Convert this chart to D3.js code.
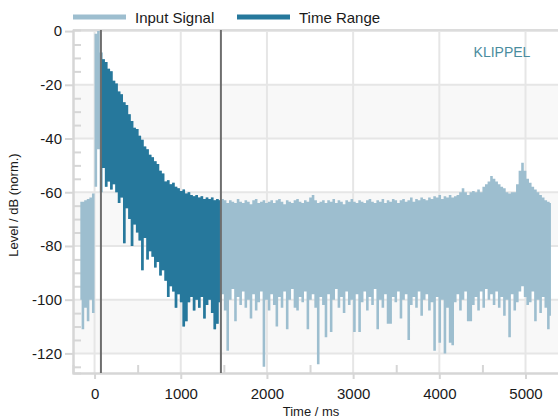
<!DOCTYPE html>
<html>
<head>
<meta charset="utf-8">
<script src="https://cdn.jsdelivr.net/npm/d3@7"></script>
<style>
  body { margin: 0; background: #fff; }
  svg { display: block; font-family: "Liberation Sans", Arial, sans-serif; }
</style>
</head>
<body>
<div id="chart"></div>
<script>
// Signal envelope, one column every 30 ms starting at -165 ms (levels in dB)
const timeStart = -165;
const timeStep = 30;

const levelTop = [
  // before onset
  -63.5, -63.5, -63, -62.5, -62, -60.5, -1, 0,
  // decay (inside time range)
  -8, -10.5, -11.5, -14, -15, -18.5, -19.5, -22.5, -23.5, -26.5,
  -27.5, -31, -33.5, -36, -36.5, -39, -40.5, -43, -44, -46,
  -47, -48.5, -49.5, -52, -53, -56, -55.5, -57, -56.5, -58,
  -58.5, -59.5, -59, -60.5, -60, -61, -61.5, -61, -62, -61.5,
  -62.5, -62, -62.5, -62, -63, -62.5, -63,
  // noise floor
  -62.5, -63, -64, -63, -63.5, -64, -62.5, -63.5, -64, -63,
  -63.5, -64.5, -63, -62.5, -64, -63.5, -63, -64, -63.5, -63,
  -64, -63, -62.5, -63.5, -64.5, -63, -63.5, -64, -63, -62.5,
  -63.5, -64, -63, -63.5, -62, -61, -63, -64, -63.5, -63,
  -64, -63, -63.5, -62.5, -64, -63, -63.5, -64.5, -63, -63.5,
  -62.5, -63.5, -64, -63, -63.5, -64, -63, -62.5, -63.5, -64,
  -63, -63.5, -62.5, -64, -63, -63.5, -62.5, -63, -64, -63,
  -62.5, -63.5, -63, -62, -63.5, -62.5, -63, -62, -62.5, -63,
  -62, -62.5, -61.5, -62, -61, -62.5, -61.5, -62, -61, -62,
  -61.5, -61, -60, -58.5, -60, -61, -60, -59.5, -60, -59,
  -60, -58, -57, -56, -54, -55, -56, -57, -58, -58.5,
  -60, -60.5, -60, -60, -57, -52, -49, -52, -55, -56.5,
  -58, -59, -60, -61, -62, -63, -63.5, -64
];

const levelBottom = [
  -100, -111, -103, -108, -100, -105, -58, -44,
  -60, -51, -58, -56, -59, -57, -60, -64, -62, -79,
  -66, -70, -80, -72, -75, -78, -89, -77, -85, -82,
  -84, -88, -86, -91, -89, -93, -99, -95, -97, -103,
  -98, -101, -110, -108, -101, -99, -104, -100, -103, -99,
  -107, -102, -100, -105, -111, -109, -101,
  -98, -104, -119, -100, -96, -108, -99, -102, -97, -103,
  -100, -107, -98, -104, -101, -97, -125, -100, -104, -98,
  -102, -110, -99, -103, -97, -111, -100, -96, -103, -104,
  -99, -101, -97, -111, -100, -98, -103, -124, -99, -102,
  -114, -98, -112, -100, -96, -103, -99, -105, -97, -102,
  -100, -112, -98, -112, -101, -97, -104, -99, -102, -96,
  -111, -100, -103, -98, -109, -109, -99, -101, -97, -107,
  -100, -98, -115, -102, -99, -103, -97, -106, -100, -98,
  -104, -101, -119, -99, -116, -100, -120, -103, -116, -117,
  -101, -98, -104, -100, -97, -108, -108, -102, -99, -104,
  -97, -103, -96, -100, -98, -102, -97, -103, -99, -106,
  -100, -114, -98, -104, -101, -97, -95, -99, -102, -101,
  -97, -108, -100, -105, -99, -103, -111, -106
];

const timeRange = [74, 1466];          // ms, marker lines
const seriesNames = ["Input Signal", "Time Range"];
const xTicks = [0, 1000, 2000, 3000, 4000, 5000];
const xMinorTicks = [500, 1500, 2500, 3500, 4500];
const yTicks = [0, -20, -40, -60, -80, -100, -120];
const yMinorTicks = [-5, -10, -15, -25, -30, -35, -45, -50, -55, -65, -70, -75,
  -85, -90, -95, -105, -110, -115, -125];

const LIGHT = "#9dbecf";
const DARK = "#26789c";

const ctx = {
  WIDTH: 558,
  HEIGHT: 416,
  LEFT: 73,
  RIGHT: 560,
  TOP: 30,
  BOTTOM: 373,
  svg: null,
  x: null,
  y: null
};

function createViz() {
  ctx.svg = d3.select("#chart").append("svg")
    .attr("width", ctx.WIDTH)
    .attr("height", ctx.HEIGHT);

  ctx.x = d3.scaleLinear().domain([-250, 5400]).range([ctx.LEFT, ctx.RIGHT]);
  ctx.y = d3.scaleLinear().domain([0.4, -127.3]).range([ctx.TOP, ctx.BOTTOM]);

  ctx.svg.append("clipPath").attr("id", "plot-clip")
    .append("rect")
    .attr("x", ctx.LEFT).attr("y", ctx.TOP)
    .attr("width", ctx.RIGHT - ctx.LEFT).attr("height", ctx.BOTTOM - ctx.TOP);

  drawGrid();
  drawAxes();
  drawSignal();
  drawLegend();
}

function drawGrid() {
  const g = ctx.svg.append("g");

  // alternating shaded bands
  const bands = yTicks.slice(0, -1).map((v, i) => [v, yTicks[i + 1]]).filter((d, i) => i % 2 === 1);
  g.selectAll("rect.band").data(bands).join("rect")
    .attr("x", ctx.LEFT)
    .attr("width", ctx.RIGHT - ctx.LEFT)
    .attr("y", d => ctx.y(d[0]))
    .attr("height", d => ctx.y(d[1]) - ctx.y(d[0]))
    .attr("fill", "#f8f8f8");

  g.selectAll("line.hgrid").data(yTicks).join("line")
    .attr("x1", ctx.LEFT).attr("x2", ctx.RIGHT)
    .attr("y1", d => ctx.y(d)).attr("y2", d => ctx.y(d))
    .attr("stroke", "#e6e6e6").attr("stroke-width", 2);

  g.selectAll("line.vgrid").data(xTicks).join("line")
    .attr("x1", d => ctx.x(d)).attr("x2", d => ctx.x(d))
    .attr("y1", ctx.TOP).attr("y2", ctx.BOTTOM)
    .attr("stroke", "#e6e6e6").attr("stroke-width", 2);

  // top border
  g.append("line")
    .attr("x1", ctx.LEFT).attr("x2", ctx.RIGHT)
    .attr("y1", ctx.TOP).attr("y2", ctx.TOP)
    .attr("stroke", "#dcdcdc").attr("stroke-width", 2);
}

function drawSignal() {
  const g = ctx.svg.append("g").attr("clip-path", "url(#plot-clip)");

  const cols = levelTop.map((hi, i) => ({
    t: timeStart + i * timeStep,
    hi: hi,
    lo: levelBottom[i]
  }));
  const inRange = cols.filter(d => d.t >= timeRange[0] && d.t <= timeRange[1]);

  // each sample is a column; step curve keeps neighbouring columns joined
  const area = d3.area()
    .x(d => ctx.x(d.t))
    .y0(d => ctx.y(d.lo))
    .y1(d => ctx.y(d.hi))
    .curve(d3.curveStep);

  g.append("path")
    .datum(cols)
    .attr("d", area)
    .attr("fill", LIGHT);

  g.append("path")
    .datum(inRange)
    .attr("d", area)
    .attr("fill", DARK);

  // time range markers
  g.selectAll("line.marker").data(timeRange).join("line")
    .attr("x1", d => ctx.x(d)).attr("x2", d => ctx.x(d))
    .attr("y1", ctx.TOP).attr("y2", ctx.BOTTOM)
    .attr("stroke", "#6e6e6e").attr("stroke-width", 2);
}

function styleAxis(sel) {
  sel.select(".domain").attr("stroke", "#d6d6d6").attr("stroke-width", 2);
  sel.selectAll(".tick line").attr("stroke", "#d6d6d6").attr("stroke-width", 2);
  sel.selectAll(".tick text")
    .attr("fill", "#1a1a1a")
    .style("font-size", "15px")
    .style("font-family", "'Liberation Sans', Arial, sans-serif");
}

function drawAxes() {
  // minor ticks (inside the plot)
  ctx.svg.append("g")
    .attr("transform", `translate(${ctx.LEFT},0)`)
    .call(d3.axisLeft(ctx.y).tickValues(yMinorTicks).tickSize(-8).tickFormat(""))
    .call(styleAxis);

  ctx.svg.append("g")
    .attr("transform", `translate(0,${ctx.BOTTOM})`)
    .call(d3.axisBottom(ctx.x).tickValues(xMinorTicks).tickSize(-8).tickFormat(""))
    .call(styleAxis);

  ctx.svg.append("g")
    .attr("transform", `translate(${ctx.LEFT},0)`)
    .call(d3.axisLeft(ctx.y).tickValues(yTicks).tickSize(8).tickSizeOuter(0)
      .tickPadding(3).tickFormat(d => String(d)))
    .call(styleAxis);

  ctx.svg.append("g")
    .attr("transform", `translate(0,${ctx.BOTTOM})`)
    .call(d3.axisBottom(ctx.x).tickValues(xTicks).tickSize(6).tickSizeOuter(0)
      .tickPadding(9).tickFormat(d => String(d)))
    .call(styleAxis);

  // axis titles
  ctx.svg.append("text")
    .attr("transform", "translate(18,205) rotate(-90)")
    .attr("text-anchor", "middle")
    .attr("fill", "#1a1a1a")
    .style("font-size", "13px")
    .text("Level / dB (norm.)");

  ctx.svg.append("text")
    .attr("x", 311).attr("y", 416)
    .attr("text-anchor", "middle")
    .attr("fill", "#1a1a1a")
    .style("font-size", "13px")
    .text("Time / ms");

  ctx.svg.append("text")
    .attr("x", 502).attr("y", 57)
    .attr("text-anchor", "middle")
    .attr("fill", "#4a8c9e")
    .style("font-size", "14px")
    .text("KLIPPEL");
}

function drawLegend() {
  const items = [
    { name: seriesNames[0], color: LIGHT, x: 73 },
    { name: seriesNames[1], color: DARK, x: 237 }
  ];
  const g = ctx.svg.append("g");
  const item = g.selectAll("g.item").data(items).join("g")
    .attr("transform", d => `translate(${d.x},17)`);

  item.append("line")
    .attr("x1", 0).attr("x2", 53)
    .attr("stroke", d => d.color)
    .attr("stroke-width", 5);

  item.append("text")
    .attr("x", 62).attr("y", 5.5)
    .attr("fill", "#1a1a1a")
    .style("font-size", "15px")
    .text(d => d.name);
}

createViz();
</script>
</body>
</html>
